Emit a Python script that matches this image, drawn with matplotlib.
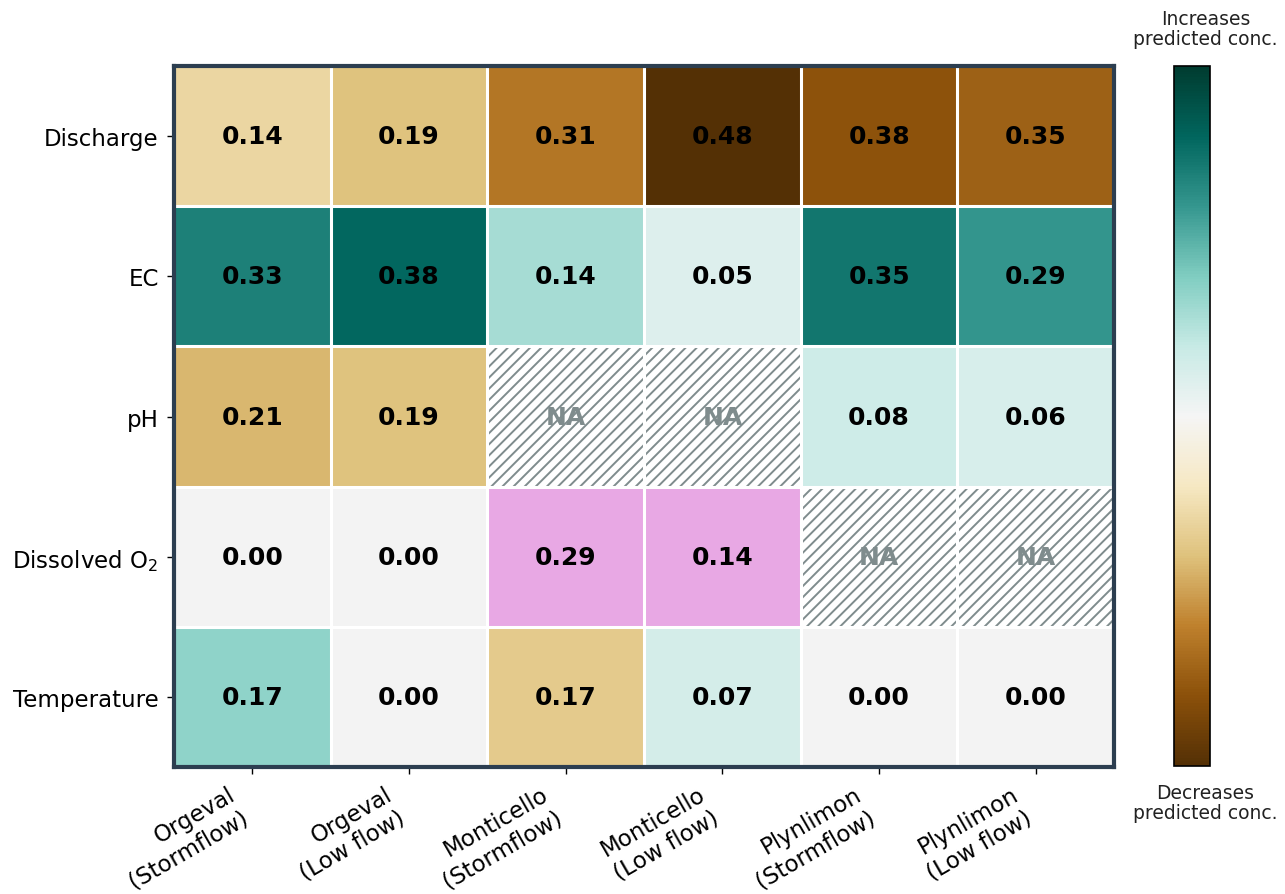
import matplotlib
matplotlib.use('Agg')
import matplotlib.pyplot as plt
import matplotlib.colors as mcolors
from matplotlib.patches import Rectangle
import numpy as np

plt.rcParams['font.family'] = ['DejaVu Sans']
plt.rcParams['hatch.linewidth'] = 1.4

drivers = ['Discharge', 'EC', 'pH', 'Dissolved O$_2$', 'Temperature']
sites = ['Orgeval\n(Stormflow)', 'Orgeval\n(Low flow)', 'Monticello\n(Stormflow)',
         'Monticello\n(Low flow)', 'Plynlimon\n(Stormflow)', 'Plynlimon\n(Low flow)']

# signed effects: negative = decreases predicted conc., positive = increases
discharge = [-0.14, -0.19, -0.31, -0.48, -0.38, -0.35]
ec = [0.33, 0.38, 0.14, 0.05, 0.35, 0.29]
ph = [-0.21, -0.19, np.nan, np.nan, 0.08, 0.06]
dissolved_o2 = [0.00, 0.00, 0.29, 0.14, np.nan, np.nan]
temperature = [0.17, 0.00, -0.17, 0.07, 0.00, 0.00]

# cells with a non-monotonic effect get their own colour
special_cells = [(3, 2), (3, 3)]
special_color = '#e8a8e4'

values = np.array([discharge, ec, ph, dissolved_o2, temperature])
vmax = 0.48
norm = mcolors.Normalize(vmin=-vmax, vmax=vmax)
cmap = plt.get_cmap('BrBG')
zero_color = '#f3f3f3'

fig = plt.figure(figsize=(12.85, 8.95), dpi=100)
ax = fig.add_axes([0.1354, 0.142, 0.7316, 0.783])
cax = fig.add_axes([0.9136, 0.143, 0.028, 0.782])

nrows, ncols = values.shape
for i in range(nrows):
    for j in range(ncols):
        v = values[i, j]
        if np.isnan(v):
            ax.add_patch(Rectangle((j, i), 1, 1, facecolor='white', edgecolor='#7f8c8d',
                                   hatch='///', linewidth=0))
            ax.text(j + 0.5, i + 0.5, 'NA', ha='center', va='center', fontsize=18,
                    fontweight='bold', color='#7f8c8d')
            continue
        if (i, j) in special_cells:
            fc = special_color
        elif v == 0:
            fc = zero_color
        else:
            fc = cmap(norm(v))
        ax.add_patch(Rectangle((j, i), 1, 1, facecolor=fc, edgecolor='none'))
        ax.text(j + 0.5, i + 0.5, f'{abs(v):.2f}', ha='center', va='center', fontsize=18,
                fontweight='bold', color='black')

# white grid between cells
for j in range(1, ncols):
    ax.axvline(j, color='white', linewidth=2.2)
for i in range(1, nrows):
    ax.axhline(i, color='white', linewidth=2.2)

ax.set_xlim(0, ncols)
ax.set_ylim(nrows, 0)
ax.set_xticks(np.arange(ncols) + 0.5)
ax.set_xticklabels(sites, rotation=30, ha='right', fontsize=16.5)
ax.set_yticks(np.arange(nrows) + 0.5)
ax.set_yticklabels(drivers, fontsize=16.5)
ax.tick_params(length=5, width=1, pad=6)
for s in ax.spines.values():
    s.set_color('#2c3e50')
    s.set_linewidth(3)

sm = plt.cm.ScalarMappable(norm=norm, cmap=cmap)
cb = fig.colorbar(sm, cax=cax)
cb.set_ticks([])
cb.outline.set_linewidth(1.2)
fig.text(0.938, 0.967, 'Increases\npredicted conc.', ha='center', va='center', fontsize=13.5,
         color='#222222', linespacing=1.1)
fig.text(0.938, 0.102, 'Decreases\npredicted conc.', ha='center', va='center', fontsize=13.5,
         color='#222222', linespacing=1.1)

fig.savefig('out.png', dpi=100)
